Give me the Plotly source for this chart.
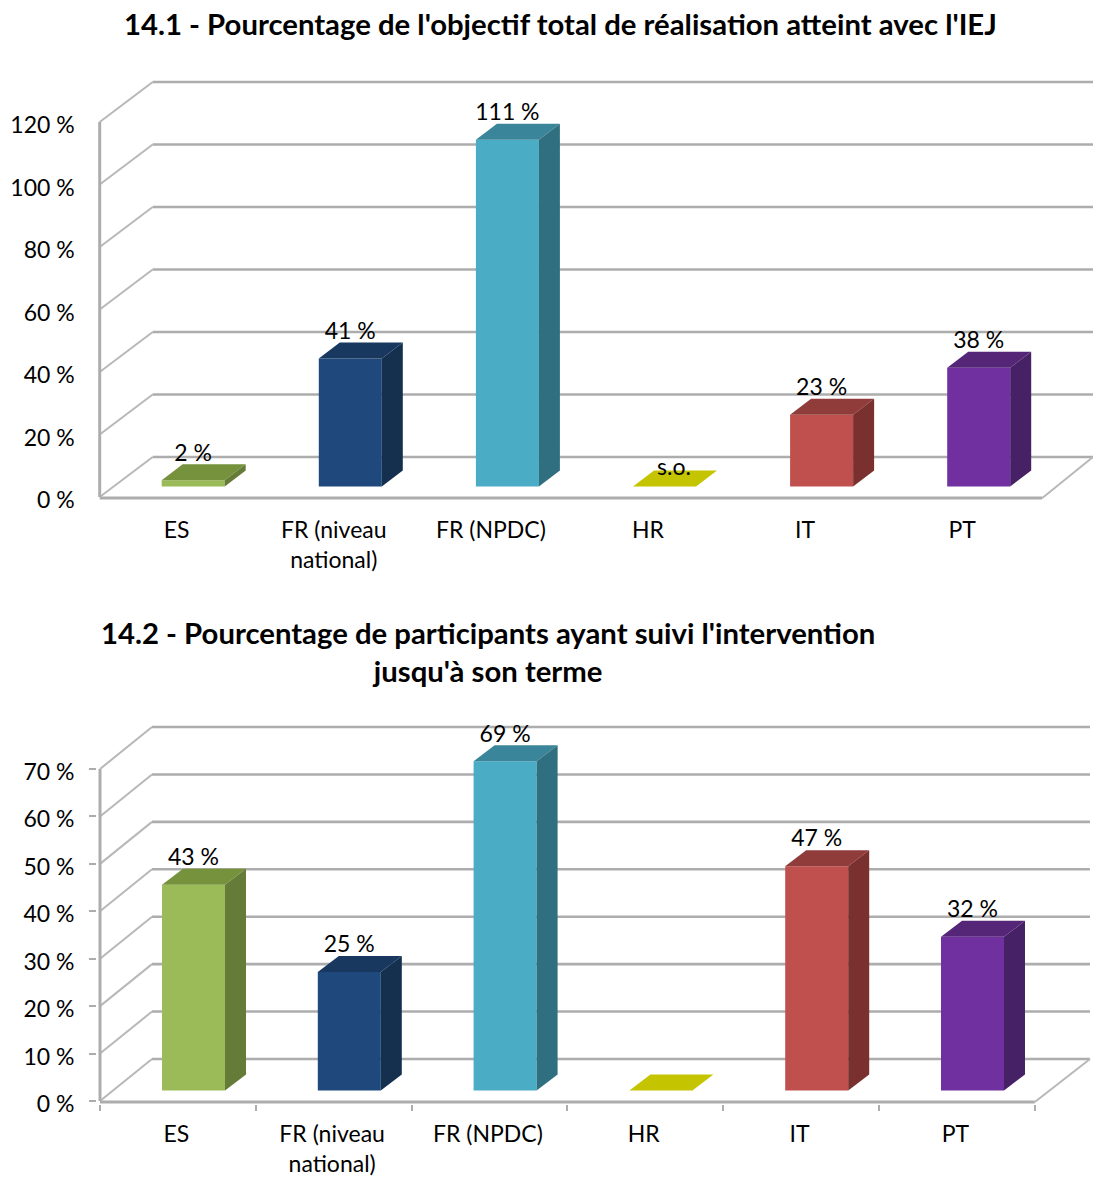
import plotly.graph_objects as go

# ---------- data ----------
categories = ["ES", "FR (niveau<br>national)", "FR (NPDC)", "HR", "IT", "PT"]
values_14_1 = [2, 41, 111, 0, 23, 38]
labels_14_1 = ["2 %", "41 %", "111 %", "s.o.", "23 %", "38 %"]
values_14_2 = [43.4, 25, 69.4, 0, 47.3, 32.4]
labels_14_2 = ["43 %", "25 %", "69 %", "", "47 %", "32 %"]
ticks_14_1 = [0, 20, 40, 60, 80, 100, 120]
ticks_14_2 = [0, 10, 20, 30, 40, 50, 60, 70]
title_14_1 = "14.1 - Pourcentage de l'objectif total de réalisation atteint avec l'IEJ"
title_14_2 = "14.2 - Pourcentage de participants ayant suivi l'intervention<br>jusqu'à son terme"

front_colors = ["#9BBB59", "#1F497D", "#4BACC6", "#C4C400", "#C0504D", "#7030A0"]
top_colors = ["#76923C", "#18385F", "#3A8599", "#C4C400", "#8F3C3A", "#552678"]
side_colors = ["#657B38", "#15304F", "#2F6F80", "#C4C400", "#7A302E", "#472166"]

FONT = "Lato"
W, H = 1093, 1179
GRID = "#ADADAD"

fig = go.Figure()


def panel(ax, values, labels, ticks, y0_px, ytop_px, left_px, slot_px, right_back_px,
          back_dx_px, back_dy_px, tick_marks):
    """Draw one pseudo-3D column panel. ax is '' or '2'."""
    xa, ya = "x" + ax, "y" + ax
    px_per_unit = (y0_px - ytop_px) / ticks[-1]
    ux = lambda p: p / slot_px
    uy = lambda p: p / px_per_unit
    n = len(categories)

    back_dx, back_dy = ux(back_dx_px), uy(back_dy_px)
    end_x = n
    back_end_x = ux(right_back_px - left_px)

    # walls and floor
    line = dict(color=GRID, width=2.6)
    diag = dict(color="#B8B8B8", width=2)
    shapes = []
    for t in ticks:
        shapes.append(dict(type="line", xref=xa, yref=ya, layer="below", x0=0, y0=t,
                           x1=back_dx, y1=t + back_dy, line=diag))
        shapes.append(dict(type="line", xref=xa, yref=ya, layer="below", x0=back_dx, y0=t + back_dy,
                           x1=back_end_x, y1=t + back_dy, line=line))
    shapes.append(dict(type="line", xref=xa, yref=ya, layer="below", x0=0, y0=0, x1=0, y1=ticks[-1],
                       line=dict(color=GRID, width=3)))
    shapes.append(dict(type="line", xref=xa, yref=ya, layer="below", x0=0, y0=-uy(1), x1=end_x, y1=-uy(1),
                       line=dict(color=GRID, width=3)))
    shapes.append(dict(type="line", xref=xa, yref=ya, layer="below", x0=end_x, y0=-uy(1),
                       x1=back_end_x, y1=back_dy, line=diag))
    fig.layout.shapes = tuple(fig.layout.shapes) + tuple(go.layout.Shape(**s) for s in shapes)

    # bars
    bar_w = ux(63)
    bar_c = [i + ux(93.5) for i in range(n)]
    base = uy(10.5)
    side_dx, side_dy = ux(21), uy(16)
    fig.add_trace(go.Bar(x=bar_c, y=values, base=[base] * n, width=bar_w,
                         marker=dict(color=front_colors, line=dict(width=0)),
                         xaxis=xa, yaxis=ya, showlegend=False, hoverinfo="skip"))
    for i, v in enumerate(values):
        l, r = bar_c[i] - bar_w / 2, bar_c[i] + bar_w / 2
        t = base + v
        fig.add_trace(go.Scatter(
            x=[l, r, r + side_dx, l + side_dx, l], y=[t, t, t + side_dy, t + side_dy, t],
            fill="toself", fillcolor=top_colors[i], mode="none",
            xaxis=xa, yaxis=ya, showlegend=False, hoverinfo="skip"))
        if v > 0:
            fig.add_trace(go.Scatter(
                x=[r, r + side_dx, r + side_dx, r, r],
                y=[base, base + side_dy, t + side_dy, t, base],
                fill="toself", fillcolor=side_colors[i], mode="none",
                xaxis=xa, yaxis=ya, showlegend=False, hoverinfo="skip"))

    # value labels
    lab_x = [c + (ux(9.5) if s == "s.o." else 0) for c, s in zip(bar_c, labels)]
    lab_y = [base + v + uy(17 if s == "s.o." else 25.5) for v, s in zip(values, labels)]
    fig.add_trace(go.Scatter(x=lab_x, y=lab_y, text=labels, mode="text", textposition="middle center",
                             textfont=dict(family=FONT, size=23, color="black"), cliponaxis=False,
                             xaxis=xa, yaxis=ya, showlegend=False, hoverinfo="skip"))

    # axes
    x_key, y_key = "xaxis" + ax, "yaxis" + ax
    pad_x, pad_y = 3, 3
    dom_top_px = ytop_px - back_dy_px - 4
    xaxis = dict(domain=[(left_px - pad_x) / W, 1], range=[-ux(pad_x), ux(W - left_px)],
                 tickmode="array", tickvals=[i + 0.49 for i in range(n)], ticktext=categories,
                 tickfont=dict(family=FONT, size=23, color="black"), showgrid=False, zeroline=False,
                 showline=False, ticks="", tickangle=0, anchor=ya, ticklabelstandoff=14,
                 automargin=False)
    yaxis = dict(domain=[1 - (y0_px + pad_y) / H, 1 - dom_top_px / H],
                 range=[-uy(pad_y), uy(y0_px - dom_top_px)],
                 tickmode="array", tickvals=ticks, ticktext=[f"{t} %" for t in ticks],
                 tickfont=dict(family=FONT, size=23, color="black"), showgrid=False, zeroline=False,
                 showline=False, anchor=xa, automargin=False, ticklabelshift=3)
    if tick_marks:
        xaxis["minor"] = dict(tickmode="array", tickvals=list(range(n + 1)), ticks="outside",
                              ticklen=6, tickcolor=GRID, tickwidth=2, showgrid=False)
        yaxis.update(ticks="outside", ticklen=7, tickcolor=GRID, tickwidth=2, ticklabelstandoff=10)
    else:
        yaxis.update(ticks="", ticklabelstandoff=21)
    fig.update_layout(**{x_key: xaxis, y_key: yaxis})


panel("", values_14_1, labels_14_1, ticks_14_1, 497, 122, 99.7, 157.1, 1093, 53, 40, False)
panel("2", values_14_2, labels_14_2, ticks_14_2, 1101, 769, 100, 155.8, 1090, 52, 42, True)

fig.update_layout(
    width=W, height=H, margin=dict(l=0, r=0, t=0, b=0), autosize=False,
    paper_bgcolor="white", plot_bgcolor="rgba(0,0,0,0)", barmode="overlay", showlegend=False,
    annotations=[
        dict(text=f"<b>{title_14_1}</b>", xref="paper", yref="paper", x=560 / W, y=1 - 24 / H,
             xanchor="center", yanchor="middle", showarrow=False,
             font=dict(family=FONT, size=29.3, color="black")),
        dict(text=f"<b>{title_14_2}</b>", xref="paper", yref="paper", x=488 / W, y=1 - 652 / H,
             xanchor="center", yanchor="middle", showarrow=False, align="center",
             font=dict(family=FONT, size=29.3, color="black")),
    ],
)

fig.write_html("out.html", config=dict(displayModeBar=False),
               post_script="document.body.style.margin='0';document.body.style.overflow='hidden';")
